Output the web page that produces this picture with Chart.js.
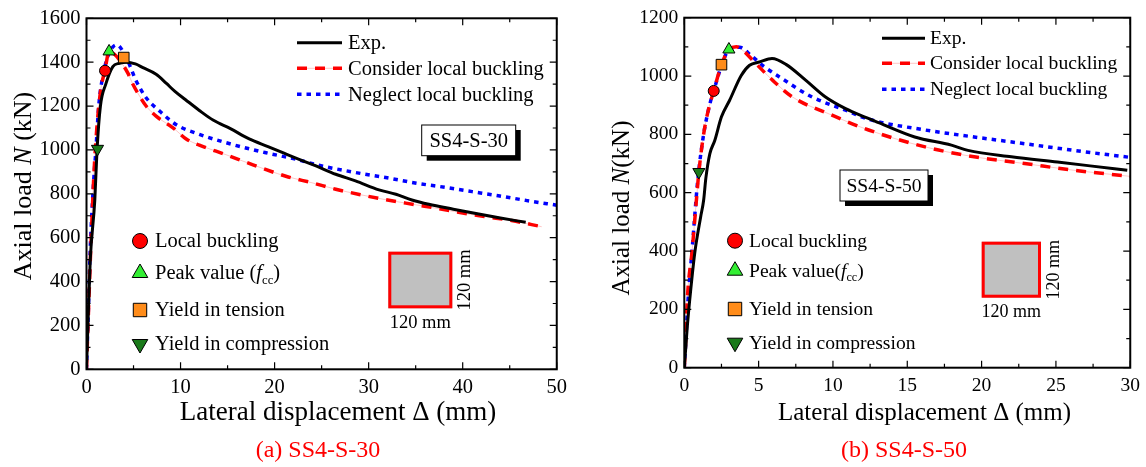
<!DOCTYPE html>
<html>
<head>
<meta charset="utf-8">
<script src="https://cdn.jsdelivr.net/npm/chart.js@4.4.1/dist/chart.umd.min.js"></script>
<style>
	html, body { margin: 0; padding: 0; background: #fff; }
	#wrap { position: relative; width: 1146px; height: 467px; overflow: hidden; }
	canvas { position: absolute; top: 0; }
</style>
</head>
<body>
<div id="wrap">
	<canvas id="chartA" width="573" height="467" style="left:0"></canvas>
	<canvas id="chartB" width="573" height="467" style="left:573px"></canvas>
</div>
<script>
// (a) SS4-S-30
const aExpX = [0, 0.15, 0.4, 0.88, 1.12, 1.48, 2.05, 2.8, 3.5, 4.24, 5.2, 6.0, 7.4, 8.5, 9.4, 10.5, 12, 13.5, 15.3, 17.3, 19.3, 21, 22.6, 24.4, 26.5, 28.6, 31.1, 32.9, 34.6, 36.4, 39, 41.7, 44, 46.7];
const aExpY = [0, 200, 500, 770, 1000, 1200, 1300, 1380, 1395, 1400, 1392, 1375, 1345, 1303, 1267, 1230, 1180, 1135, 1097, 1050, 1015, 985, 957, 927, 889, 859, 818, 798, 772, 752, 730, 708, 690, 670];
const aConX = [0, 0.2, 0.5, 0.8, 1.1, 1.5, 1.97, 2.4, 3.0, 3.6, 4.4, 4.95, 5.65, 6.36, 7.4, 9.2, 10.6, 12, 14.85, 17.7, 21.2, 24, 26.5, 29, 31.45, 35, 37.5, 40, 42.5, 45.2, 48.4];
const aConY = [0, 250, 600, 900, 1100, 1270, 1365, 1449, 1435, 1405, 1350, 1298, 1245, 1199, 1154, 1101, 1050, 1022, 978, 932, 880, 850, 821, 797, 776, 750, 732, 712, 695, 678, 650];
const aNegX = [0, 0.15, 0.4, 0.75, 1.0, 1.3, 1.8, 2.4, 3.2, 4.24, 5.3, 6.36, 7.8, 9.5, 12, 15.5, 19.1, 22.3, 24.7, 28.6, 31.8, 35.3, 38.2, 41, 43.8, 46.7, 50];
const aNegY = [0, 200, 550, 850, 1000, 1200, 1350, 1440, 1479, 1419, 1313, 1237, 1176, 1116, 1071, 1025, 987, 957, 930, 897, 874, 847, 829, 810, 791, 770, 748];
// markers: local buckling, peak, yield in tension, yield in compression
const aMarkX = [1.97, 2.4, 3.96, 1.17];
const aMarkY = [1361, 1449, 1421, 1005];

// (b) SS4-S-50
const bExpX = [0, 0.1, 0.2, 0.43, 0.72, 1.1, 1.3, 1.45, 1.72, 2.05, 2.5, 3.05, 3.83, 4.39, 5.06, 5.9, 6.84, 8.18, 9.5, 10.85, 12.2, 13.07, 15.5, 17.97, 19.08, 22, 25.1, 27.3, 29.8];
const bExpY = [0, 70, 140, 266, 400, 517, 574, 650, 734, 779, 860, 917, 1002, 1037, 1048, 1060, 1040, 985, 928, 888, 858, 840, 791, 763, 745, 723, 705, 692, 677];
const bConX = [0, 0.1, 0.2, 0.53, 0.87, 0.98, 1.3, 1.6, 1.98, 2.5, 3.0, 3.5, 4.0, 4.6, 5.95, 7.28, 9.74, 12.4, 16.2, 19.5, 22.9, 26.2, 30];
const bConY = [0, 100, 232, 403, 608, 671, 800, 880, 949, 1039, 1091, 1100, 1085, 1054, 985, 928, 870, 815, 757, 723, 700, 677, 656];
const bNegX = [0, 0.1, 0.25, 0.55, 0.9, 1.3, 1.7, 2.1, 2.6, 3.0, 3.72, 4.5, 5.3, 6.4, 8.6, 10.85, 12.4, 16.2, 19.5, 22.9, 26.2, 30];
const bNegY = [0, 90, 230, 420, 640, 800, 900, 970, 1050, 1090, 1099, 1070, 1035, 997, 928, 883, 852, 815, 791, 768, 745, 721];
const bMarkX = [1.98, 3.0, 2.5, 0.98];
const bMarkY = [949, 1091, 1039, 671];

const seriesNames = ["Exp.", "Consider local buckling", "Neglect local buckling"];
const markerNames = ["Local buckling", "Peak value", "Yield in tension", "Yield in compression"];

const serif = "'Liberation Serif', 'Times New Roman', serif";
const markerStyles = [
	{ pointStyle: "circle", rotation: 0, color: "#ff0000", r: 5.5, lr: 7.5 },
	{ pointStyle: "triangle", rotation: 0, color: "#33ee33", r: 7, lr: 9 },
	{ pointStyle: "rect", rotation: 0, color: "#ff8c1a", r: 7.5, lr: 9.5 },
	{ pointStyle: "triangle", rotation: 180, color: "#1a7a1a", r: 7, lr: 9 }
];

function pts(xs, ys) {
	return xs.map((x, i) => ({ x: x, y: ys[i] }));
}

// text made of pieces: "" normal, "i" italic, "sub" subscript
function richWidth(ctx, parts, size) {
	let w = 0;
	parts.forEach(([t, s]) => {
		const fs = s === "sub" ? size * 0.62 : size;
		ctx.font = (s === "i" ? "italic " : "") + fs + "px " + serif;
		w += ctx.measureText(t).width;
	});
	return w;
}
function drawRich(ctx, parts, x, y, size) {
	let cx = x;
	parts.forEach(([t, s]) => {
		const fs = s === "sub" ? size * 0.62 : size;
		ctx.font = (s === "i" ? "italic " : "") + fs + "px " + serif;
		ctx.fillText(t, cx, s === "sub" ? y + size * 0.32 : y);
		cx += ctx.measureText(t).width;
	});
}

function makePanel(id, p) {
	const markerSets = p.markX.map((x, i) => ({
		data: [{ x: x, y: p.markY[i] }],
		showLine: false,
		pointStyle: markerStyles[i].pointStyle,
		rotation: markerStyles[i].rotation,
		pointRadius: markerStyles[i].r,
		pointBackgroundColor: markerStyles[i].color,
		pointBorderColor: "#000",
		pointBorderWidth: 1
	}));

	const decor = {
		id: "decor",
		afterDraw(chart) {
			const ctx = chart.ctx;
			const a = chart.chartArea;
			const xs = chart.scales.x, ys = chart.scales.y;
			ctx.save();

			// frame and inside ticks on all sides
			ctx.strokeStyle = "#000";
			ctx.lineWidth = 1.2;
			ctx.beginPath();
			for (let v = 0; v <= p.xMax + 1e-9; v += p.xStep / 2) {
				const px = xs.getPixelForValue(v);
				const len = Math.round(v / (p.xStep / 2)) % 2 === 0 ? 7 : 4;
				ctx.moveTo(px, a.bottom); ctx.lineTo(px, a.bottom - len);
				ctx.moveTo(px, a.top); ctx.lineTo(px, a.top + len);
			}
			for (let v = 0; v <= p.yMax + 1e-9; v += 100) {
				const py = ys.getPixelForValue(v);
				const len = Math.round(v / 100) % 2 === 0 ? 7 : 4;
				ctx.moveTo(a.left, py); ctx.lineTo(a.left + len, py);
				ctx.moveTo(a.right, py); ctx.lineTo(a.right - len, py);
			}
			ctx.stroke();
			ctx.lineWidth = 2;
			ctx.strokeRect(a.left, a.top, a.right - a.left, a.bottom - a.top);

			ctx.fillStyle = "#000";
			ctx.textBaseline = "middle";

			// axis titles
			ctx.textAlign = "left";
			const xt = [["Lateral displacement \u0394 (mm)", ""]];
			drawRich(ctx, xt, p.xTitle.x - richWidth(ctx, xt, p.titleSize) / 2, p.xTitle.y, p.titleSize);
			const yt = p.yTitleParts;
			const ytw = richWidth(ctx, yt, p.yTitleSize);
			ctx.save();
			ctx.translate(p.yTitle.x, p.yTitle.y);
			ctx.rotate(-Math.PI / 2);
			drawRich(ctx, yt, -ytw / 2, 0, p.yTitleSize);
			ctx.restore();

			// line legend
			const lg = p.lineLegend;
			const styles = [
				{ c: "#000", w: 3, d: [] },
				{ c: "#ff0000", w: 3.5, d: [10, 8] },
				{ c: "#0000ff", w: 3.5, d: [4.5, 5] }
			];
			seriesNames.forEach((name, i) => {
				const y = lg.rows[i];
				if (i === 1) {
					ctx.setLineDash([]);
					ctx.strokeStyle = "rgba(255,130,130,0.45)";
					ctx.lineWidth = 1;
					ctx.beginPath(); ctx.moveTo(lg.x0, y); ctx.lineTo(lg.x1, y); ctx.stroke();
				}
				ctx.setLineDash(styles[i].d);
				ctx.strokeStyle = styles[i].c;
				ctx.lineWidth = styles[i].w;
				ctx.beginPath(); ctx.moveTo(lg.x0, y); ctx.lineTo(lg.x1, y); ctx.stroke();
				ctx.setLineDash([]);
				ctx.font = p.legendSize + "px " + serif;
				ctx.fillText(name, lg.tx, y + 1);
			});

			// marker legend
			const ml = p.markLegend;
			markerNames.forEach((name, i) => {
				const st = markerStyles[i];
				ctx.fillStyle = st.color;
				ctx.strokeStyle = "#000";
				ctx.lineWidth = 1;
				Chart.helpers.drawPoint(ctx, { pointStyle: st.pointStyle, rotation: st.rotation, radius: st.lr, borderWidth: 1 }, ml.x, ml.rows[i]);
				ctx.fillStyle = "#000";
				const parts = i === 1 ? p.peakParts : [[name, ""]];
				drawRich(ctx, parts, ml.tx, ml.rows[i] + 1, p.legendSize);
			});

			// specimen label box with shadow
			const bx = p.box;
			ctx.fillStyle = "#000";
			ctx.fillRect(bx.x + 5, bx.y + 5, bx.w, bx.h);
			ctx.fillStyle = "#fff";
			ctx.fillRect(bx.x, bx.y, bx.w, bx.h);
			ctx.lineWidth = 1;
			ctx.strokeRect(bx.x, bx.y, bx.w, bx.h);
			ctx.fillStyle = "#000";
			ctx.textAlign = "center";
			ctx.font = p.legendSize + "px " + serif;
			ctx.fillText(p.name, bx.x + bx.w / 2, bx.y + bx.h / 2 + 1);

			// cross-section sketch
			const sq = p.section;
			ctx.fillStyle = "#c0c0c0";
			ctx.fillRect(sq.x, sq.y, sq.w, sq.h);
			ctx.strokeStyle = "#ff0000";
			ctx.lineWidth = 3;
			ctx.strokeRect(sq.x + 1.5, sq.y + 1.5, sq.w - 3, sq.h - 3);
			ctx.fillStyle = "#000";
			ctx.font = p.dimSize + "px " + serif;
			ctx.fillText("120 mm", sq.x + sq.w / 2, sq.y + sq.h + 15);
			ctx.save();
			ctx.translate(sq.x + sq.w + 13, sq.y + sq.h / 2);
			ctx.rotate(-Math.PI / 2);
			ctx.fillText("120 mm", 0, 0);
			ctx.restore();

			// caption
			ctx.fillStyle = "#ff0000";
			ctx.font = p.captionSize + "px " + serif;
			ctx.fillText(p.caption, p.captionX, 451);

			ctx.restore();
		}
	};

	new Chart(document.getElementById(id), {
		type: "line",
		data: {
			datasets: markerSets.concat([
				{ data: pts(p.expX, p.expY), borderColor: "#000", borderWidth: 3, pointRadius: 0, cubicInterpolationMode: "monotone" },
				{ data: pts(p.conX, p.conY), borderColor: "#ff0000", borderWidth: 3.5, borderDash: [10, 8], pointRadius: 0, cubicInterpolationMode: "monotone" },
				{ data: pts(p.negX, p.negY), borderColor: "#0000ff", borderWidth: 3.5, borderDash: [4.5, 5], pointRadius: 0, cubicInterpolationMode: "monotone" },
				{ data: pts(p.conX, p.conY), borderColor: "rgba(255,130,130,0.45)", borderWidth: 1, pointRadius: 0, cubicInterpolationMode: "monotone" }
			])
		},
		options: {
			responsive: false,
			animation: false,
			devicePixelRatio: 1,
			layout: { padding: { top: p.area.top, right: 573 - p.area.right, left: 0, bottom: 0 } },
			plugins: { legend: { display: false }, tooltip: { enabled: false } },
			scales: {
				x: {
					type: "linear", min: 0, max: p.xMax,
					afterFit: (s) => { s.height = 467 - p.area.bottom; },
					grid: { display: false, drawTicks: false },
					border: { display: false },
					ticks: { stepSize: p.xStep, padding: 6, color: "#000", maxRotation: 0, callback: (v) => String(v), font: { family: serif, size: p.tickSize } }
				},
				y: {
					type: "linear", min: 0, max: p.yMax,
					afterFit: (s) => { s.width = p.area.left; },
					grid: { display: false, drawTicks: false },
					border: { display: false },
					ticks: { stepSize: 200, padding: 6, color: "#000", callback: (v) => String(v), font: { family: serif, size: p.tickSize } }
				}
			}
		},
		plugins: [decor]
	});
}

makePanel("chartA", {
	name: "SS4-S-30", caption: "(a) SS4-S-30", captionX: 318, captionSize: 24,
	expX: aExpX, expY: aExpY, conX: aConX, conY: aConY, negX: aNegX, negY: aNegY,
	markX: aMarkX, markY: aMarkY,
	xMax: 50, xStep: 10, yMax: 1600,
	area: { left: 86.5, top: 16.7, right: 560, bottom: 369.3 },
	tickSize: 20.5, titleSize: 27, yTitleSize: 26, legendSize: 20.5, dimSize: 18.5,
	xTitle: { x: 338, y: 413 }, yTitle: { x: 24, y: 186 },
	yTitleParts: [["Axial load ", ""], ["N", "i"], [" (kN)", ""]],
	peakParts: [["Peak value (", ""], ["f", "i"], ["cc", "sub"], [")", ""]],
	lineLegend: { x0: 297, x1: 342, tx: 348, rows: [42.7, 68.3, 94.3] },
	markLegend: { x: 140, tx: 155, rows: [241, 273, 310, 344] },
	box: { x: 421.7, y: 125, w: 94, h: 30.7 },
	section: { x: 388.3, y: 251.7, w: 64, h: 56.6 }
});

makePanel("chartB", {
	name: "SS4-S-50", caption: "(b) SS4-S-50", captionX: 331, captionSize: 24,
	expX: bExpX, expY: bExpY, conX: bConX, conY: bConY, negX: bNegX, negY: bNegY,
	markX: bMarkX, markY: bMarkY,
	xMax: 30, xStep: 5, yMax: 1200,
	area: { left: 111.3, top: 17.3, right: 560.3, bottom: 367.7 },
	tickSize: 19.5, titleSize: 25, yTitleSize: 25, legendSize: 19.6, dimSize: 18,
	xTitle: { x: 351.5, y: 413 }, yTitle: { x: 49.5, y: 208 },
	yTitleParts: [["Axial load ", ""], ["N", "i"], ["(kN)", ""]],
	peakParts: [["Peak value(", ""], ["f", "i"], ["cc", "sub"], [")", ""]],
	lineLegend: { x0: 309, x1: 352, tx: 357, rows: [38.3, 63.3, 89.3] },
	markLegend: { x: 162, tx: 176, rows: [240.7, 270.7, 309, 342.7] },
	box: { x: 267, y: 170, w: 88, h: 31 },
	section: { x: 408.7, y: 241.7, w: 59.3, h: 56 }
});
</script>
</body>
</html>
